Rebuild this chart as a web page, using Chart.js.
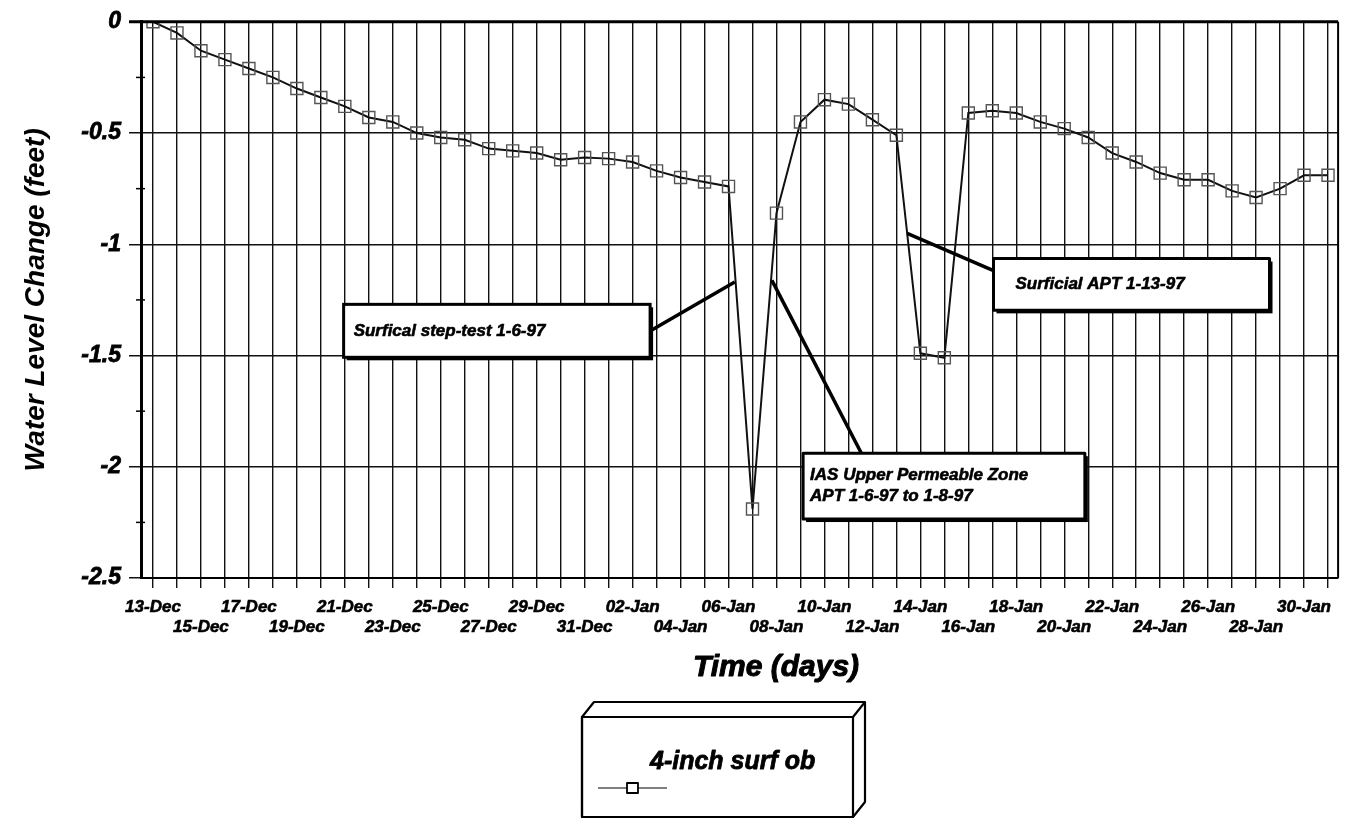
<!DOCTYPE html>
<html>
<head>
<meta charset="utf-8">
<script src="https://cdn.jsdelivr.net/npm/chart.js@4.4.1/dist/chart.umd.min.js"></script>
<style>
  html, body { margin: 0; padding: 0; background: #fff; }
  canvas { display: block; }
</style>
</head>
<body>
<canvas id="c" width="1348" height="818"></canvas>
<script>
// Daily observation dates, 13 Dec 1996 to 31 Jan 1997
const dayLabels = [
  "13-Dec","14-Dec","15-Dec","16-Dec","17-Dec","18-Dec","19-Dec","20-Dec","21-Dec","22-Dec",
  "23-Dec","24-Dec","25-Dec","26-Dec","27-Dec","28-Dec","29-Dec","30-Dec","31-Dec",
  "01-Jan","02-Jan","03-Jan","04-Jan","05-Jan","06-Jan","07-Jan","08-Jan","09-Jan","10-Jan",
  "11-Jan","12-Jan","13-Jan","14-Jan","15-Jan","16-Jan","17-Jan","18-Jan","19-Jan","20-Jan",
  "21-Jan","22-Jan","23-Jan","24-Jan","25-Jan","26-Jan","27-Jan","28-Jan","29-Jan","30-Jan","31-Jan"
];

// Water level change (feet) in the 4-inch surficial observation well
const waterLevel = [
  0.00, -0.05, -0.13, -0.17, -0.21, -0.25, -0.30, -0.34, -0.38, -0.43,
  -0.45, -0.50, -0.52, -0.53, -0.57, -0.58, -0.59, -0.62, -0.61,
  -0.615, -0.63, -0.67, -0.70, -0.72, -0.74, -2.19, -0.86, -0.45, -0.35,
  -0.37, -0.44, -0.51, -1.49, -1.51, -0.41, -0.40, -0.41, -0.45, -0.48,
  -0.52, -0.59, -0.63, -0.68, -0.71, -0.71, -0.76, -0.79, -0.75, -0.69, -0.69
];

const seriesName = "4-inch surf ob";

const yTickValues = [0, -0.5, -1, -1.5, -2, -2.5];
const yTickLabels = ["0", "-0.5", "-1", "-1.5", "-2", "-2.5"];
const yMinorTicks = [-0.25, -0.75, -1.25, -1.75, -2.25];

const FAMILY = '"Liberation Sans", Arial, Helvetica, sans-serif';
const bi = (size) => ({ family: FAMILY, size: size, style: 'italic', weight: 'bold' });

// Callout boxes, placed in axis units (day index, feet)
const callouts = [
  { lines: ["Surfical step-test 1-6-97"], box: [7.95, -1.27, 20.73, -1.508], pad: 10,
    from: [20.73, -1.39], to: [24.26, -1.17] },
  { lines: ["IAS Upper Permeable Zone", "APT 1-6-97 to 1-8-97"], box: [27.11, -1.939, 38.86, -2.235], pad: 7,
    from: [29.54, -1.939], to: [25.81, -1.162] },
  { lines: ["Surficial APT 1-13-97"], box: [35.05, -1.064, 46.56, -1.297], pad: 22,
    from: [35.05, -1.118], to: [31.45, -0.951] }
];

// heavy italic text: fill plus a thin outline of the same colour
function heavyText(ctx, text, x, y, w) {
  ctx.lineWidth = w;
  ctx.lineJoin = 'round';
  ctx.strokeText(text, x, y);
  ctx.fillText(text, x, y);
}

const decorations = {
  id: 'decorations',
  afterDatasetsDraw(chart) {
    const { ctx, chartArea: a, scales: { x, y } } = chart;
    ctx.save();

    // outer frame of the plot
    ctx.strokeStyle = '#000';
    ctx.lineWidth = 2;
    ctx.beginPath();
    ctx.moveTo(a.right, a.top);
    ctx.lineTo(a.right, a.bottom);
    ctx.stroke();
    ctx.lineWidth = 3;
    ctx.beginPath();
    ctx.moveTo(a.left - 12, a.top);
    ctx.lineTo(a.right, a.top);
    ctx.stroke();

    // minor ticks across the value axis
    ctx.lineWidth = 1.5;
    yMinorTicks.forEach(v => {
      const py = y.getPixelForValue(v);
      ctx.beginPath();
      ctx.moveTo(a.left - 5, py);
      ctx.lineTo(a.left + 4, py);
      ctx.stroke();
    });

    // callouts with leader lines
    callouts.forEach(c => {
      const x0 = x.getPixelForValue(c.box[0]), y0 = y.getPixelForValue(c.box[1]);
      const x1 = x.getPixelForValue(c.box[2]), y1 = y.getPixelForValue(c.box[3]);
      ctx.strokeStyle = '#000';
      ctx.lineWidth = 3.5;
      ctx.beginPath();
      ctx.moveTo(x.getPixelForValue(c.from[0]), y.getPixelForValue(c.from[1]));
      ctx.lineTo(x.getPixelForValue(c.to[0]), y.getPixelForValue(c.to[1]));
      ctx.stroke();
      ctx.fillStyle = '#000';
      ctx.fillRect(x0 + 3, y0 + 3, x1 - x0, y1 - y0);
      ctx.fillStyle = '#fff';
      ctx.fillRect(x0, y0, x1 - x0, y1 - y0);
      ctx.lineWidth = 3;
      ctx.strokeRect(x0, y0, x1 - x0, y1 - y0);
      ctx.fillStyle = '#000';
      ctx.font = 'italic bold 17px ' + FAMILY;
      ctx.textBaseline = 'middle';
      ctx.textAlign = 'left';
      const lh = 21;
      const cy = (y0 + y1) / 2 - (c.lines.length - 1) * lh / 2;
      c.lines.forEach((t, i) => heavyText(ctx, t, x0 + c.pad, cy + i * lh, 0.6));
    });

    // horizontal axis title
    ctx.font = 'italic bold 30px ' + FAMILY;
    ctx.textAlign = 'center';
    ctx.textBaseline = 'middle';
    heavyText(ctx, 'Time (days)', 776, 668, 1);

    // 3-D legend box
    const ds = chart.data.datasets[0];
    const L = { x: 582, y: 717, w: 271, h: 100, dx: 12, dy: -15 };
    ctx.strokeStyle = '#000';
    ctx.lineWidth = 2.2;
    ctx.fillStyle = '#fff';
    ctx.beginPath();
    ctx.moveTo(L.x, L.y);
    ctx.lineTo(L.x + L.dx, L.y + L.dy);
    ctx.lineTo(L.x + L.w + L.dx, L.y + L.dy);
    ctx.lineTo(L.x + L.w + L.dx, L.y + L.h + L.dy);
    ctx.lineTo(L.x + L.w, L.y + L.h);
    ctx.lineTo(L.x, L.y + L.h);
    ctx.closePath();
    ctx.fill();
    ctx.stroke();
    ctx.strokeRect(L.x, L.y, L.w, L.h);
    ctx.beginPath();
    ctx.moveTo(L.x + L.w, L.y);
    ctx.lineTo(L.x + L.w + L.dx, L.y + L.dy);
    ctx.stroke();

    ctx.fillStyle = '#000';
    ctx.font = 'italic bold 25px ' + FAMILY;
    ctx.textAlign = 'left';
    heavyText(ctx, ds.label, 650, 762, 0.8);
    ctx.lineWidth = 1.2;
    ctx.strokeStyle = '#000';
    ctx.beginPath();
    ctx.moveTo(598, 788);
    ctx.lineTo(667, 788);
    ctx.stroke();
    ctx.fillStyle = '#fff';
    ctx.lineWidth = 1.8;
    ctx.fillRect(627, 783, 11, 10);
    ctx.strokeRect(627, 783, 11, 10);
    ctx.restore();
  }
};

new Chart(document.getElementById('c'), {
  type: 'line',
  data: {
    datasets: [{
      label: seriesName,
      data: waterLevel.map((v, i) => ({ x: i, y: v })),
      borderColor: '#111',
      borderWidth: 2,
      tension: 0,
      pointStyle: 'rect',
      pointRadius: 8.5,
      pointBorderWidth: 1.4,
      pointBorderColor: '#555',
      pointBackgroundColor: 'rgba(0,0,0,0)',
      fill: false
    }]
  },
  options: {
    responsive: false,
    animation: false,
    devicePixelRatio: 1,
    layout: { padding: { top: 21, right: 1, left: 0, bottom: 0 } },
    plugins: { legend: { display: false }, tooltip: { enabled: false } },
    scales: {
      x: {
        type: 'linear',
        min: -0.5,
        max: 49.42,
        afterBuildTicks: s => { s.ticks = dayLabels.map((_, i) => ({ value: i })); },
        afterFit: s => { s.height = 240; },
        grid: { color: '#111', lineWidth: 1.4, tickLength: 10 },
        border: { display: true, color: '#000', width: 2 },
        ticks: {
          autoSkip: false, maxRotation: 0, minRotation: 0, padding: 9,
          color: '#000', font: bi(17), lineHeight: 1.3,
          textStrokeColor: '#000', textStrokeWidth: 0.6,
          callback: (v) => {
            const i = Math.round(v);
            if (i % 4 === 0) return [dayLabels[i], ''];
            if (i % 4 === 2) return ['', dayLabels[i]];
            return '';
          }
        }
      },
      y: {
        min: -2.5,
        max: 0,
        afterBuildTicks: s => { s.ticks = yTickValues.map(v => ({ value: v })); },
        afterFit: s => { s.width = 141; },
        grid: { color: '#111', lineWidth: 1.5, tickLength: 12 },
        border: { display: true, color: '#000', width: 3 },
        ticks: {
          padding: 8, color: '#000', font: bi(23),
          textStrokeColor: '#000', textStrokeWidth: 0.8,
          callback: (v, i) => yTickLabels[i]
        },
        title: {
          display: true, text: 'Water Level Change (feet)', color: '#000',
          font: bi(28), padding: { top: 19, bottom: 0 }
        }
      }
    }
  },
  plugins: [decorations]
});
</script>
</body>
</html>
